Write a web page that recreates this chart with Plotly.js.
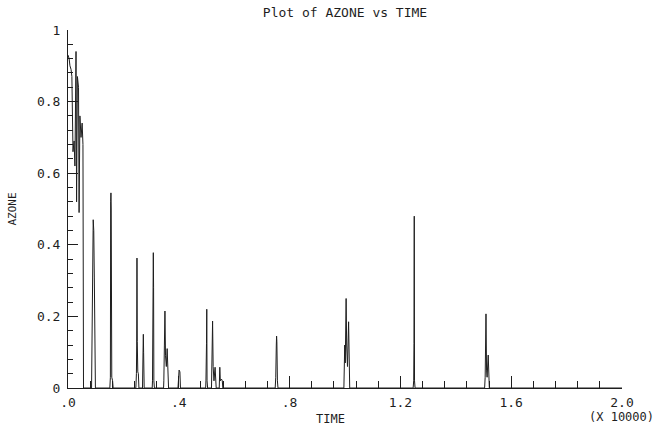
<!DOCTYPE html>
<html>
<head>
<meta charset="utf-8">
<script src="https://cdn.plot.ly/plotly-3.0.1.min.js"></script>
<style>html,body{margin:0;padding:0;background:#fff;}#chart{width:658px;height:429px;}</style>
</head>
<body>
<div id="chart"></div>
<script>
// TIME in units of 10000
const time = [
  0.000, 0.004, 0.007, 0.011, 0.014, 0.018, 0.022, 0.025, 0.029, 0.031,
  0.034, 0.038, 0.040, 0.043, 0.047, 0.051, 0.054, 0.056,
  0.085, 0.087, 0.089, 0.091, 0.093, 0.095, 0.097, 0.099,
  0.151, 0.153, 0.154, 0.155, 0.156, 0.158, 0.161, 0.163,
  0.245, 0.247, 0.248, 0.249, 0.250, 0.252, 0.254, 0.256,
  0.269, 0.271, 0.272, 0.273, 0.275,
  0.304, 0.305, 0.307, 0.308, 0.309, 0.310, 0.312,
  0.345, 0.346, 0.348, 0.350, 0.352, 0.355, 0.358, 0.360, 0.363,
  0.397, 0.399, 0.401, 0.404, 0.406,
  0.497, 0.498, 0.500, 0.501, 0.502, 0.504,
  0.518, 0.520, 0.522, 0.524, 0.527, 0.531, 0.533, 0.535,
  0.546, 0.548, 0.550, 0.554, 0.557, 0.559,
  0.748, 0.750, 0.752, 0.753, 0.754, 0.756, 0.758,
  0.996, 0.998, 0.999, 1.001, 1.004, 1.006, 1.009, 1.013, 1.015, 1.017,
  1.246, 1.248, 1.249, 1.250, 1.251, 1.253,
  1.504, 1.506, 1.507, 1.509, 1.511, 1.513, 1.517, 1.519, 1.521,
  2.000
];
const azone = [
  0.93, 0.92, 0.90, 0.89, 0.87, 0.66, 0.69, 0.62, 0.94, 0.52,
  0.87, 0.84, 0.49, 0.76, 0.70, 0.74, 0.68, 0.00,
  0.00, 0.13, 0.31, 0.47, 0.44, 0.31, 0.03, 0.00,
  0.00, 0.03, 0.52, 0.545, 0.50, 0.03, 0.02, 0.00,
  0.00, 0.04, 0.12, 0.363, 0.13, 0.045, 0.04, 0.00,
  0.00, 0.106, 0.15, 0.10, 0.00,
  0.00, 0.02, 0.27, 0.378, 0.28, 0.02, 0.00,
  0.00, 0.02, 0.12, 0.215, 0.09, 0.06, 0.11, 0.04, 0.00,
  0.00, 0.03, 0.05, 0.045, 0.00,
  0.00, 0.02, 0.125, 0.22, 0.02, 0.00,
  0.00, 0.12, 0.187, 0.06, 0.02, 0.058, 0.01, 0.00,
  0.00, 0.058, 0.02, 0.025, 0.02, 0.00,
  0.00, 0.03, 0.12, 0.145, 0.13, 0.02, 0.00,
  0.00, 0.05, 0.12, 0.07, 0.25, 0.12, 0.06, 0.185, 0.10, 0.00,
  0.00, 0.02, 0.125, 0.48, 0.02, 0.00,
  0.00, 0.03, 0.12, 0.207, 0.05, 0.03, 0.092, 0.02, 0.00,
  0.00
];
const xTickVals = [0, 0.4, 0.8, 1.2, 1.6, 2.0];
const xTickText = ['.0', '.4', '.8', '1.2', '1.6', '2.0'];
const yTickVals = [0, 0.2, 0.4, 0.6, 0.8, 1];
const yTickText = ['0', '0.2', '0.4', '0.6', '0.8', '1'];

const ink = '#1e1e1e';
const mono = 'DejaVu Sans Mono, monospace';

const trace = {
  x: time, y: azone, type: 'scatter', mode: 'lines',
  line: {color: ink, width: 1}, hoverinfo: 'skip', showlegend: false
};

const layout = {
  width: 658, height: 429,
  margin: {l: 68, r: 36, t: 30, b: 41, pad: 0},
  paper_bgcolor: '#fff', plot_bgcolor: '#fff',
  font: {family: mono, color: ink, size: 13},
  title: {text: 'Plot of AZONE vs TIME', x: 0.5, xref: 'paper', y: 0.982, yref: 'container',
          font: {family: mono, size: 13, color: ink}},
  xaxis: {
    range: [0, 2.0], showgrid: false, zeroline: false,
    showline: true, linecolor: ink, linewidth: 1,
    tickmode: 'array', tickvals: xTickVals, ticktext: xTickText,
    ticks: 'inside', ticklen: 12, tickcolor: ink, tickwidth: 1,
    minor: {dtick: 0.08, tick0: 0, ticks: 'inside', ticklen: 7, tickcolor: ink, tickwidth: 1, showgrid: false},
    tickfont: {family: mono, size: 13, color: ink},
    ticklabelstandoff: 2
  },
  yaxis: {
    range: [0, 1], showgrid: false, zeroline: false,
    showline: true, linecolor: ink, linewidth: 1,
    tickmode: 'array', tickvals: yTickVals, ticktext: yTickText,
    ticks: 'inside', ticklen: 10, tickcolor: ink, tickwidth: 1,
    minor: {dtick: 0.04, tick0: 0, ticks: 'inside', ticklen: 5, tickcolor: ink, tickwidth: 1, showgrid: false},
    tickfont: {family: mono, size: 13, color: ink},
    ticklabelstandoff: 4,
    title: {text: 'AZONE', font: {family: mono, size: 11, color: ink}, standoff: 18}
  },
  annotations: [
    {text: 'TIME', xref: 'paper', yref: 'paper', x: (330 - 68) / 554, y: -31 / 358,
     xanchor: 'center', yanchor: 'middle', showarrow: false, font: {family: mono, size: 12, color: ink}},
    {text: '(X 10000)', xref: 'paper', yref: 'paper', x: (621 - 68) / 554, y: -29 / 358,
     xanchor: 'center', yanchor: 'middle', showarrow: false, font: {family: mono, size: 12, color: ink}}
  ]
};

Plotly.newPlot('chart', [trace], layout, {staticPlot: true, displayModeBar: false});
</script>
</body>
</html>
